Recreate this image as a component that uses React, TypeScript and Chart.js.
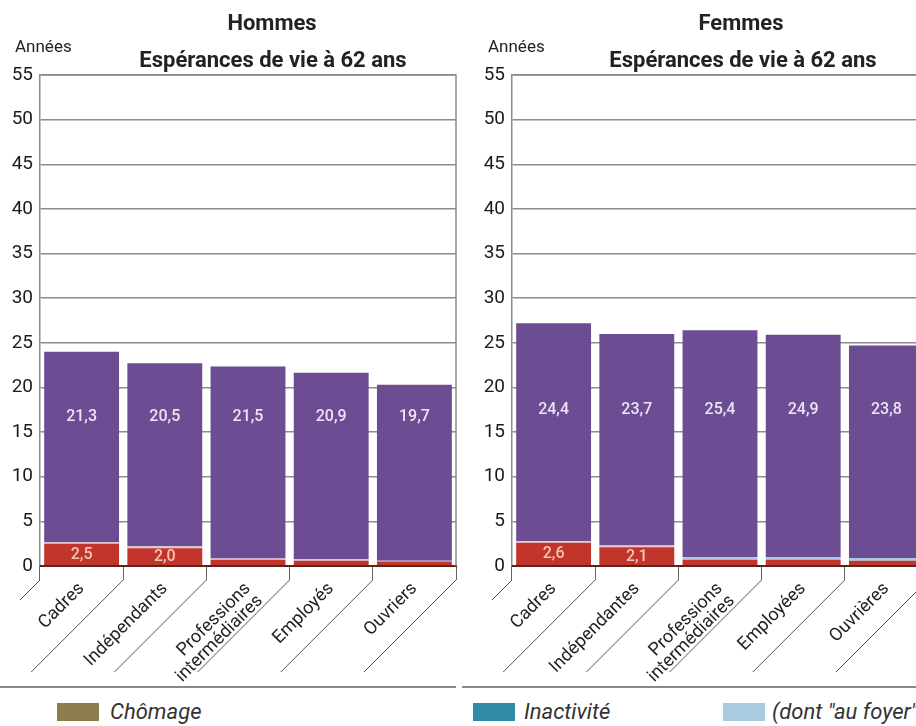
import React, { useEffect, useRef } from 'react';
import { Chart, registerables } from 'chart.js';
Chart.register(...registerables);

const FONT = 'Roboto, "Liberation Sans Narrow", "DejaVu Sans Condensed", sans-serif';

// ---- Data ----
const categoriesH: (string | string[])[] = ['Cadres', 'Indépendants', ['Professions', 'intermédiaires'], 'Employés', 'Ouvriers'];
const categoriesF: (string | string[])[] = ['Cadres', 'Indépendantes', ['Professions', 'intermédiaires'], 'Employées', 'Ouvrières'];

const incapaciteH = [2.5, 2.0, 0.7, 0.6, 0.5];
const foyerH = [0.2, 0.2, 0.15, 0.15, 0.1];
const sansIncapaciteH = [21.3, 20.5, 21.5, 20.9, 19.7];

const incapaciteF = [2.6, 2.1, 0.7, 0.7, 0.6];
const foyerF = [0.2, 0.2, 0.3, 0.3, 0.3];
const sansIncapaciteF = [24.4, 23.7, 25.4, 24.9, 23.8];

const foyerColorsH = ['#dcc3d6', '#dcc3d6', '#d8c8dc', '#d8c8dc', '#d8c8dc'];
const foyerColorsF = ['#ecc6c8', '#ecc6c8', '#a9c9e4', '#a9c9e4', '#a9c9e4'];

const Y_MIN = 0;
const Y_MAX = 55;
const Y_STEP = 5;

const PURPLE = '#6c4d93';
const RED = '#c1352a';

function fmt(v: number) {
  return v.toFixed(1).replace('.', ',');
}

function buildChart(
  canvas: HTMLCanvasElement,
  cats: (string | string[])[],
  red: number[],
  thin: number[],
  thinColors: string[],
  main: number[],
  labelY: number
) {
  const deco = {
    id: 'deco',
    afterDatasetsDraw(chart: any) {
      const { ctx, chartArea, scales } = chart;
      const ys = scales.y;
      ctx.save();
      ctx.strokeStyle = '#5a241c';
      ctx.lineWidth = 2;
      ctx.beginPath();
      ctx.moveTo(chartArea.left, chartArea.bottom);
      ctx.lineTo(chartArea.right, chartArea.bottom);
      ctx.stroke();
      ctx.textAlign = 'center';
      ctx.textBaseline = 'middle';
      const meta0 = chart.getDatasetMeta(0);
      meta0.data.forEach((bar: any, i: number) => {
        const x = bar.x;
        ctx.font = '500 16px ' + FONT;
        ctx.fillStyle = '#ece3f5';
        ctx.fillText(fmt(main[i]), x, ys.getPixelForValue(labelY));
        if (red[i] >= 1.5) {
          ctx.fillStyle = '#f6c7b6';
          ctx.fillText(fmt(red[i]), x, ys.getPixelForValue(red[i] / 2));
        }
      });
      ctx.restore();
    },
    afterDraw(chart: any) {
      const { ctx, chartArea } = chart;
      ctx.save();
      ctx.strokeStyle = '#8a8a8a';
      ctx.lineWidth = 1.5;
      ctx.beginPath();
      ctx.moveTo(chartArea.left, chartArea.top);
      ctx.lineTo(chartArea.right, chartArea.top);
      ctx.lineTo(chartArea.right, chartArea.bottom);
      ctx.stroke();
      const n = cats.length;
      const w = (chartArea.right - chartArea.left) / n;
      ctx.strokeStyle = '#555';
      ctx.lineWidth = 1;
      const y0 = chartArea.bottom + 14;
      for (let i = 0; i <= n; i++) {
        const x = chartArea.left + i * w;
        const L = Math.min(92, x - (chartArea.left - 20));
        ctx.beginPath();
        ctx.moveTo(x, y0);
        ctx.lineTo(x - L, y0 + L);
        ctx.stroke();
      }
      ctx.restore();
    },
  };

  return new Chart(canvas, {
    type: 'bar',
    data: {
      labels: cats as any,
      datasets: [
        { label: 'Incapacité', data: red, backgroundColor: RED, borderWidth: 0, barPercentage: 0.9, categoryPercentage: 1 },
        { label: 'Au foyer', data: thin, backgroundColor: thinColors, borderWidth: 0, barPercentage: 0.9, categoryPercentage: 1 },
        { label: 'Sans incapacité', data: main, backgroundColor: PURPLE, borderWidth: 0, barPercentage: 0.9, categoryPercentage: 1 },
      ],
    },
    options: {
      responsive: false,
      animation: false,
      devicePixelRatio: 1,
      layout: { padding: { top: 75, right: 2, left: 0, bottom: 0 } },
      plugins: { legend: { display: false }, tooltip: { enabled: false }, title: { display: false } },
      scales: {
        x: {
          stacked: true,
          grid: { offset: true, color: '#d0d0d0', lineWidth: 1, tickLength: 14, tickColor: '#666', drawOnChartArea: false },
          border: { color: '#5a241c', width: 2 },
          ticks: {
            maxRotation: 45,
            minRotation: 45,
            autoSkip: false,
            padding: 0,
            color: '#222',
            font: { family: FONT, size: 18, lineHeight: 0.95 },
          },
          afterFit: (s: any) => {
            s.height = 124;
          },
        },
        y: {
          stacked: true,
          min: Y_MIN,
          max: Y_MAX,
          ticks: { stepSize: Y_STEP, color: '#1a1a1a', padding: 7, font: { family: FONT, size: 19 } },
          grid: { color: '#8c8c8c', lineWidth: 1.5, drawTicks: false },
          border: { color: '#8c8c8c', width: 1.5 },
          afterFit: (s: any) => {
            s.width = 40;
          },
        },
      },
    },
    plugins: [deco],
  } as any);
}

const txt = (extra: React.CSSProperties): React.CSSProperties => ({
  position: 'absolute',
  fontFamily: FONT,
  color: '#222',
  lineHeight: 1,
  whiteSpace: 'nowrap',
  ...extra,
});

export default function App() {
  const leftRef = useRef<HTMLCanvasElement>(null);
  const rightRef = useRef<HTMLCanvasElement>(null);

  useEffect(() => {
    const a = buildChart(leftRef.current!, categoriesH, incapaciteH, foyerH, foyerColorsH, sansIncapaciteH, 16.7);
    const b = buildChart(rightRef.current!, categoriesF, incapaciteF, foyerF, foyerColorsF, sansIncapaciteF, 17.5);
    return () => {
      a.destroy();
      b.destroy();
    };
  }, []);

  return (
    <div style={{ position: 'fixed', left: 0, top: 0, width: 916, height: 726, overflow: 'hidden', background: '#fff' }}>
      <canvas ref={leftRef} width={458} height={690} style={{ position: 'absolute', left: 0, top: 0, width: 458, height: 690 }} />
      <canvas ref={rightRef} width={458} height={690} style={{ position: 'absolute', left: 472, top: 0, width: 458, height: 690 }} />

      <div style={txt({ left: 272, top: 12, transform: 'translateX(-50%)', fontSize: 22, fontWeight: 'bold' })}>Hommes</div>
      <div style={txt({ left: 273, top: 49, transform: 'translateX(-50%)', fontSize: 22, fontWeight: 'bold' })}>Espérances de vie à 62 ans</div>
      <div style={txt({ left: 15, top: 38, fontSize: 17 })}>Années</div>

      <div style={txt({ left: 741, top: 12, transform: 'translateX(-50%)', fontSize: 22, fontWeight: 'bold' })}>Femmes</div>
      <div style={txt({ left: 743, top: 49, transform: 'translateX(-50%)', fontSize: 22, fontWeight: 'bold' })}>Espérances de vie à 62 ans</div>
      <div style={txt({ left: 488, top: 38, fontSize: 17 })}>Années</div>

      <div style={{ position: 'absolute', left: 0, top: 686, width: 456, height: 2, background: '#8a8a8a' }} />
      <div style={{ position: 'absolute', left: 462, top: 686, width: 454, height: 2, background: '#8a8a8a' }} />

      <div style={{ position: 'absolute', left: 57, top: 703, width: 42, height: 18, background: '#8b7d4c' }} />
      <div style={txt({ left: 110, top: 701, fontSize: 22, fontStyle: 'italic', color: '#333' })}>Chômage</div>
      <div style={{ position: 'absolute', left: 473, top: 703, width: 42, height: 18, background: '#2f8aa6' }} />
      <div style={txt({ left: 524, top: 701, fontSize: 22, fontStyle: 'italic', color: '#333' })}>Inactivité</div>
      <div style={{ position: 'absolute', left: 723, top: 703, width: 42, height: 18, background: '#a9cbe0' }} />
      <div style={txt({ left: 772, top: 701, fontSize: 22, fontStyle: 'italic', color: '#333' })}>(dont "au foyer")</div>
    </div>
  );
}
